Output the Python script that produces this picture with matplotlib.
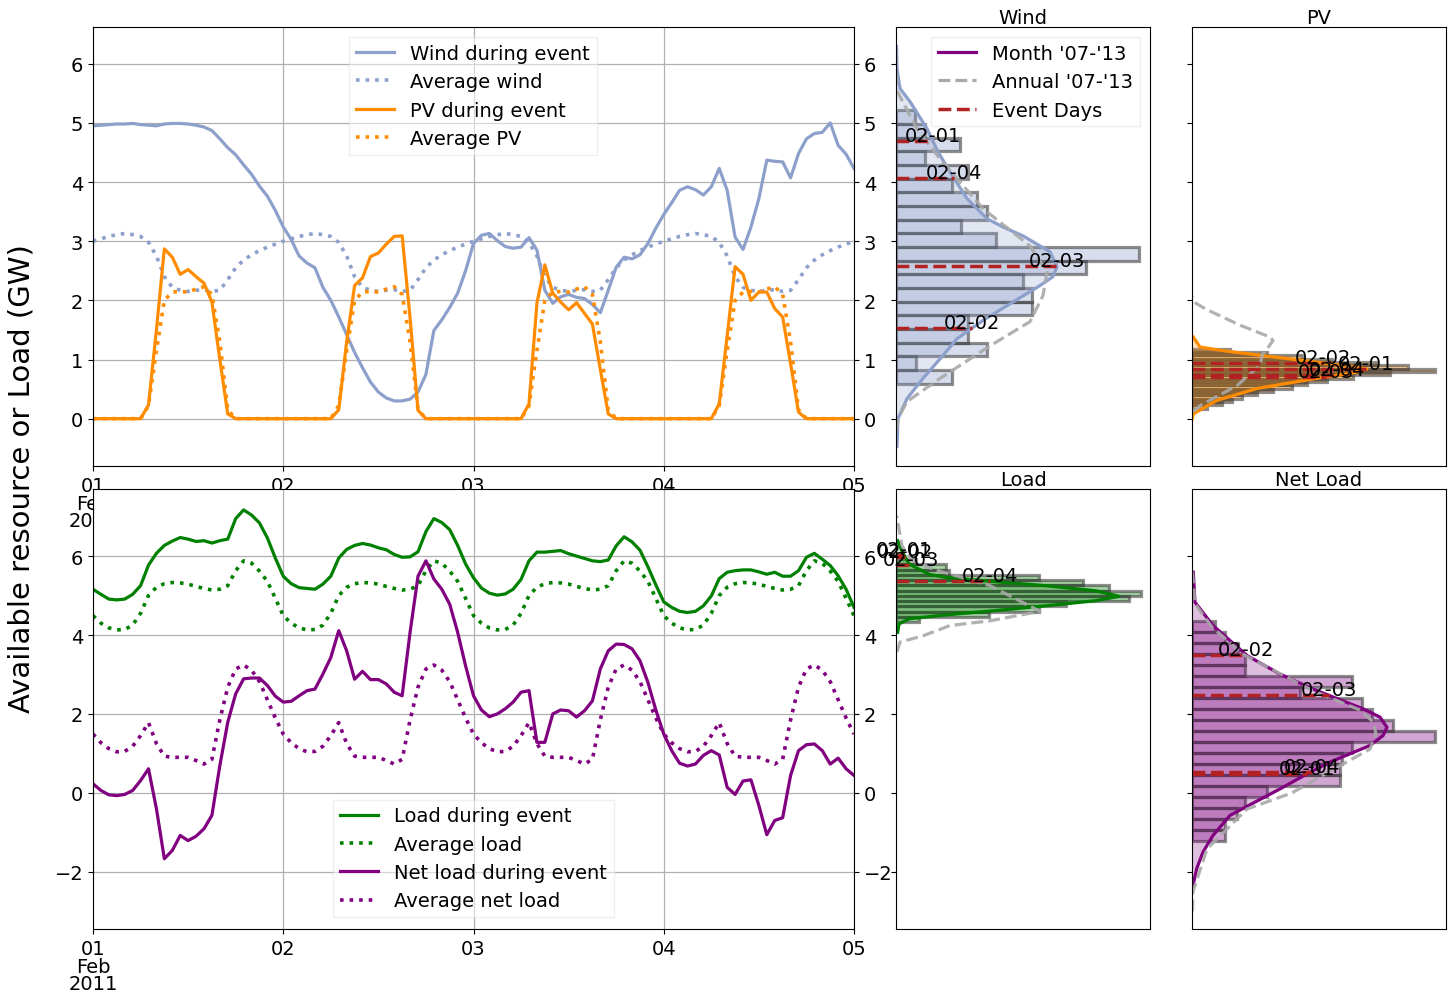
import numpy as np
import matplotlib
matplotlib.use('Agg')
import matplotlib.pyplot as plt
import matplotlib.dates as mdates
from matplotlib.colors import to_rgb
from matplotlib.lines import Line2D

plt.rcParams['font.family'] = 'DejaVu Sans'
plt.rcParams['font.size'] = 14

# hourly values, 2011-02-01 00:00 .. 2011-02-05 00:00 (GW)
wind = [4.95, 4.96, 4.97, 4.98, 4.98, 4.99, 4.97, 4.96, 4.95, 4.98, 4.99, 4.99, 4.98, 4.96, 4.93, 4.87, 4.73, 4.58, 4.46, 4.29, 4.13, 3.93, 3.76, 3.52,
        3.24, 3.03, 2.75, 2.63, 2.55, 2.22, 2.00, 1.72, 1.42, 1.12, 0.86, 0.62, 0.45, 0.35, 0.30, 0.30, 0.33, 0.45, 0.75, 1.49, 1.67, 1.88, 2.12, 2.50,
        2.96, 3.10, 3.13, 3.01, 2.91, 2.88, 2.90, 3.06, 2.85, 2.17, 1.95, 2.06, 2.10, 2.05, 2.03, 1.93, 1.79, 2.17, 2.56, 2.73, 2.70, 2.77, 2.96, 3.22,
        3.45, 3.65, 3.86, 3.92, 3.87, 3.78, 3.92, 4.23, 3.86, 3.07, 2.86, 3.24, 3.72, 4.37, 4.35, 4.34, 4.07, 4.48, 4.73, 4.82, 4.84, 5.00, 4.62, 4.47,
        4.23]
pv = [0, 0, 0, 0, 0, 0, 0, 0.23, 1.50, 2.87, 2.73, 2.44, 2.52, 2.40, 2.29, 1.97, 1.00, 0.08, 0, 0, 0, 0, 0, 0,
      0, 0, 0, 0, 0, 0, 0, 0.15, 1.30, 2.25, 2.38, 2.74, 2.80, 2.95, 3.08, 3.09, 1.70, 0.14, 0, 0, 0, 0, 0, 0,
      0, 0, 0, 0, 0, 0, 0, 0.25, 1.95, 2.60, 2.12, 1.97, 1.84, 1.96, 1.78, 1.60, 0.83, 0.08, 0, 0, 0, 0, 0, 0,
      0, 0, 0, 0, 0, 0, 0, 0.25, 1.40, 2.57, 2.44, 2.00, 2.14, 2.14, 1.86, 1.72, 0.93, 0.11, 0, 0, 0, 0, 0, 0,
      0]
load = [5.16, 5.03, 4.91, 4.89, 4.91, 5.03, 5.25, 5.77, 6.07, 6.27, 6.38, 6.47, 6.43, 6.37, 6.39, 6.33, 6.39, 6.43, 6.95, 7.17, 7.04, 6.84, 6.46, 5.95,
        5.49, 5.30, 5.20, 5.18, 5.16, 5.29, 5.49, 5.95, 6.17, 6.27, 6.32, 6.28, 6.21, 6.16, 6.04, 5.97, 5.98, 6.11, 6.62, 6.95, 6.85, 6.67, 6.27, 5.80,
        5.45, 5.19, 5.06, 5.01, 5.04, 5.16, 5.41, 5.88, 6.10, 6.10, 6.12, 6.14, 6.06, 6.00, 5.94, 5.88, 5.86, 5.90, 6.26, 6.49, 6.36, 6.15, 5.73, 5.27,
        4.84, 4.70, 4.60, 4.57, 4.60, 4.74, 4.99, 5.43, 5.59, 5.63, 5.65, 5.65, 5.60, 5.54, 5.59, 5.49, 5.49, 5.63, 5.97, 6.07, 5.92, 5.76, 5.50, 5.16,
        4.70]
netload = [0.23, 0.06, -0.05, -0.07, -0.04, 0.06, 0.31, 0.61, -0.40, -1.67, -1.46, -1.08, -1.21, -1.10, -0.91, -0.57, 0.69, 1.79, 2.51, 2.89, 2.91, 2.91, 2.72, 2.45,
           2.30, 2.32, 2.46, 2.59, 2.63, 3.01, 3.43, 4.11, 3.60, 2.88, 3.08, 2.87, 2.87, 2.76, 2.55, 2.46, 4.07, 5.49, 5.88, 5.42, 5.16, 4.78, 4.07, 3.22,
           2.46, 2.10, 1.93, 2.00, 2.13, 2.30, 2.55, 2.59, 1.28, 1.28, 2.00, 2.10, 2.08, 1.92, 2.08, 2.33, 3.14, 3.60, 3.77, 3.76, 3.65, 3.35, 2.80, 2.10,
           1.49, 1.07, 0.75, 0.68, 0.73, 0.95, 1.07, 0.96, 0.14, -0.04, 0.30, 0.33, -0.32, -1.06, -0.70, -0.63, 0.44, 1.07, 1.22, 1.24, 1.07, 0.73, 0.88, 0.61,
           0.44]

# average day profiles (hour 0..23), same every day
wind_avg_day = [3.00, 3.04, 3.08, 3.11, 3.13, 3.11, 3.08, 2.98, 2.75, 2.40, 2.22, 2.17, 2.15, 2.17, 2.18, 2.15, 2.17, 2.35, 2.55, 2.68, 2.77, 2.84, 2.90, 2.95]
pv_avg_day = [0, 0, 0, 0, 0, 0, 0, 0.22, 1.15, 2.00, 2.14, 2.15, 2.14, 2.19, 2.23, 2.10, 1.30, 0.15, 0, 0, 0, 0, 0, 0]
load_avg_day = [4.49, 4.30, 4.18, 4.13, 4.14, 4.25, 4.55, 5.00, 5.21, 5.30, 5.33, 5.32, 5.29, 5.23, 5.18, 5.14, 5.16, 5.25, 5.63, 5.88, 5.82, 5.62, 5.36, 4.93]
net_avg_day = [1.49, 1.27, 1.12, 1.04, 1.05, 1.18, 1.45, 1.78, 1.25, 0.93, 0.90, 0.90, 0.90, 0.82, 0.73, 0.85, 1.85, 2.68, 3.14, 3.24, 3.11, 2.82, 2.36, 1.90]

# daily-mean histograms, Feb '07-'13 (bin range lo..hi, counts bottom->top)
wind_bins = (0.59, 5.21)
wind_counts = [5.6, 2.0, 9.1, 7.2, 7.2, 13.6, 13.6, 12.7, 19.0, 24.3, 10.0, 6.5, 9.1, 8.1, 5.6, 7.2, 2.9, 6.4, 2.9, 1.9]
pv_bins = (0.17, 1.18)
pv_counts = [1.5, 3.0, 4.0, 5.0, 6.5, 8.1, 10.0, 11.5, 13.5, 16.1, 19.8, 24.3, 21.6, 18.5, 14.0, 11.0, 7.5, 3.8]
load_bins = (4.33, 5.92)
load_counts = [2.3, 9.3, 14.3, 17.0, 23.3, 24.5, 21.3, 18.7, 14.3, 5.3, 5.0, 2.0]
net_bins = (-1.21, 4.36)
net_counts = [3.3, 3.3, 4.5, 5.3, 7.5, 14.8, 14.8, 15.0, 16.0, 24.3, 20.1, 18.0, 17.0, 10.8, 16.0, 5.3, 5.3, 4.6, 3.3, 2.3]

# density curves: month '07-'13 and annual '07-'13 (value, density)
wind_kde_v = [-0.47, 0.0, 0.34, 0.68, 1.01, 1.35, 1.66, 1.91, 2.25, 2.40, 2.57, 2.82, 3.09, 3.24, 3.38, 3.72, 4.17, 4.51, 4.90, 5.36, 5.58, 5.92, 6.29]
wind_kde_d = [0.1, 0.2, 1.1, 2.7, 4.4, 6.1, 8.7, 11.1, 14.4, 15.7, 16.1, 15.4, 12.7, 10.7, 9.1, 7.1, 5.4, 4.2, 3.1, 1.4, 0.4, 0.1, 0.05]
wind_ann_v = [-0.2, 0.0, 0.29, 0.68, 1.23, 1.64, 2.08, 2.48, 2.92, 3.55, 4.39, 4.90, 5.54, 5.90]
wind_ann_d = [0.05, 0.2, 1.1, 4.4, 9.4, 13.4, 14.7, 15.1, 13.4, 8.7, 4.4, 2.1, 0.1, 0.03]
pv_kde_v = [0.0, 0.08, 0.31, 0.51, 0.70, 0.76, 0.84, 0.88, 1.01, 1.15, 1.21, 1.38]
pv_kde_d = [0.03, 0.13, 2.5, 6.5, 13.1, 15.8, 17.5, 16.0, 9.8, 3.1, 0.8, 0.13]
pv_ann_v = [0.12, 0.22, 0.56, 0.90, 1.07, 1.20, 1.32, 1.38, 1.58, 1.85, 1.95, 2.06]
pv_ann_d = [0.1, 0.8, 4.5, 6.8, 7.0, 7.6, 8.1, 7.8, 4.8, 1.4, 0.4, 0.05]
load_kde_v = [4.07, 4.28, 4.41, 4.51, 4.62, 4.74, 4.87, 4.98, 5.12, 5.25, 5.35, 5.46, 5.54, 5.67, 5.80, 6.09, 6.39]
load_kde_d = [0.17, 0.3, 1.3, 5.0, 10.0, 15.0, 20.0, 22.3, 20.0, 15.0, 10.0, 5.0, 3.3, 2.3, 1.3, 0.67, 0.17]
load_ann_v = [3.57, 3.82, 3.98, 4.24, 4.36, 4.60, 5.25, 5.67, 5.90, 6.26, 7.02]
load_ann_d = [0.1, 0.4, 2.7, 5.4, 9.4, 14.4, 9.4, 3.7, 1.5, 0.6, 0.07]
net_kde_v = [-2.35, -1.92, -1.50, -1.08, -0.57, 0.10, 0.48, 0.78, 1.20, 1.45, 1.66, 1.92, 2.13, 2.63, 3.01, 3.48, 4.24, 4.83, 5.59]
net_kde_d = [0.1, 0.47, 1.1, 2.1, 3.8, 8.8, 11.5, 13.8, 17.8, 19.1, 19.5, 18.8, 17.1, 12.1, 8.8, 5.5, 2.1, 0.3, 0.13]
net_ann_v = [-3.0, -2.5, -1.42, -0.41, 0.0, 0.69, 1.11, 1.50, 1.80, 2.10, 2.60, 3.50, 4.20, 4.80, 5.60]
net_ann_d = [0.05, 0.1, 1.5, 5.5, 10.0, 14.8, 17.8, 18.4, 18.1, 16.8, 12.0, 5.2, 2.0, 0.3, 0.05]

c_wind = '#8da0cb'
c_pv = '#ff8c00'
c_load = 'green'
c_net = 'purple'

hours = np.arange(np.datetime64('2011-02-01T00'), np.datetime64('2011-02-05T01'), np.timedelta64(1, 'h'))
days = [str(d)[5:10] for d in hours[:96:24]]


def tile_day(profile):
    return np.concatenate([np.tile(profile, 4), profile[:1]])


def day_fmt(x, pos=None):
    d = mdates.num2date(x)
    if d.day == 1:
        return d.strftime('%d\n%b\n%Y')
    return d.strftime('%d')


W, H = 1452.0, 995.0
fig = plt.figure(figsize=(W / 100, H / 100), dpi=100)
ax_top = fig.add_axes([93 / W, 1 - 467 / H, 761 / W, 439 / H])
ax_bot = fig.add_axes([93 / W, 1 - 930 / H, 761 / W, 440 / H])
ax_wind = fig.add_axes([896 / W, 1 - 467 / H, 254 / W, 439 / H], sharey=ax_top)
ax_pv = fig.add_axes([1192 / W, 1 - 467 / H, 254 / W, 439 / H], sharey=ax_top)
ax_load = fig.add_axes([896 / W, 1 - 930 / H, 254 / W, 440 / H], sharey=ax_bot)
ax_net = fig.add_axes([1192 / W, 1 - 930 / H, 254 / W, 440 / H], sharey=ax_bot)

ax_top.plot(hours, wind, color=c_wind, lw=2.3, label='Wind during event')
ax_top.plot(hours, tile_day(wind_avg_day), color=c_wind, lw=2.6, ls=':', label='Average wind')
ax_top.plot(hours, pv, color=c_pv, lw=2.3, label='PV during event')
ax_top.plot(hours, tile_day(pv_avg_day), color=c_pv, lw=2.6, ls=':', label='Average PV')
ax_top.set_ylim(-0.8, 6.62)
ax_top.set_yticks(range(0, 7))

ax_bot.plot(hours, load, color=c_load, lw=2.3, label='Load during event')
ax_bot.plot(hours, tile_day(load_avg_day), color=c_load, lw=2.6, ls=':', label='Average load')
ax_bot.plot(hours, netload, color=c_net, lw=2.3, label='Net load during event')
ax_bot.plot(hours, tile_day(net_avg_day), color=c_net, lw=2.6, ls=':', label='Average net load')
ax_bot.set_ylim(-3.45, 7.7)
ax_bot.set_yticks([-2, 0, 2, 4, 6])

leg_kw = dict(borderaxespad=0, labelspacing=0.48, borderpad=0.35, fancybox=False,
              framealpha=0.5, edgecolor='0.88', fontsize=14)
ax_top.legend(loc='upper left', bbox_to_anchor=(0.336, 0.977), **leg_kw)
ax_bot.legend(loc='lower left', bbox_to_anchor=(0.315, 0.027), **leg_kw)

for ax in (ax_top, ax_bot):
    ax.set_xlim(hours[0], hours[-1])
    ax.xaxis.set_major_locator(mdates.DayLocator())
    ax.xaxis.set_major_formatter(plt.FuncFormatter(day_fmt))
    ax.grid(True, color='#b0b0b0', lw=0.9)
    ax.tick_params(axis='y', right=True, labelright=True, labelsize=14)
    ax.tick_params(axis='x', labelsize=14)


def hist_panel(ax, title, color, bins, counts, kde_v, kde_d, ann_v, ann_d, series):
    n = len(counts)
    step = (bins[1] - bins[0]) / n
    bottoms = bins[0] + step * np.arange(n)
    ax.barh(bottoms, counts, height=step, align='edge',
            facecolor=to_rgb(color) + (0.35,), edgecolor=(0.2, 0.2, 0.2, 0.55), linewidth=2.3)
    ax.fill_betweenx(kde_v, 0, kde_d, color=color, alpha=0.25, lw=0)
    ax.plot(kde_d, kde_v, color=color, lw=2.3)
    ax.plot(ann_d, ann_v, color='darkgray', ls='--', lw=2.3, alpha=0.9)
    means = np.asarray(series[:96]).reshape(4, 24).mean(axis=1)
    for lab, v in zip(days, means):
        d = np.interp(v, kde_v, kde_d)
        ax.plot([0, d], [v, v], color='firebrick', ls='--', lw=2.5)
        ax.text(d, v, lab, ha='center', va='baseline', fontsize=14)
    ax.set_xlim(0, 25.4)
    ax.set_xticks([])
    ax.tick_params(axis='y', labelleft=False)
    ax.set_title(title, fontsize=14, pad=3)


hist_panel(ax_wind, 'Wind', c_wind, wind_bins, wind_counts, wind_kde_v, wind_kde_d, wind_ann_v, wind_ann_d, wind)
hist_panel(ax_pv, 'PV', c_pv, pv_bins, pv_counts, pv_kde_v, pv_kde_d, pv_ann_v, pv_ann_d, pv)
hist_panel(ax_load, 'Load', c_load, load_bins, load_counts, load_kde_v, load_kde_d, load_ann_v, load_ann_d, load)
hist_panel(ax_net, 'Net Load', c_net, net_bins, net_counts, net_kde_v, net_kde_d, net_ann_v, net_ann_d, netload)

handles = [Line2D([], [], color=c_net, lw=2.3),
           Line2D([], [], color='darkgray', ls='--', lw=2.3),
           Line2D([], [], color='firebrick', ls='--', lw=2.5)]
ax_wind.legend(handles, ["Month '07-'13", "Annual '07-'13", 'Event Days'],
               loc='upper right', bbox_to_anchor=(0.96, 0.977), **leg_kw)

fig.text(22 / W, 1 - 479 / H, 'Available resource or Load (GW)', rotation=90,
         ha='center', va='center', fontsize=21)

# tighter line spacing for the multi-line date tick labels
fig.canvas.draw()
for ax in (ax_top, ax_bot):
    for t in ax.get_xticklabels():
        t.set_linespacing(0.92)

fig.savefig('out.png', dpi=100)
